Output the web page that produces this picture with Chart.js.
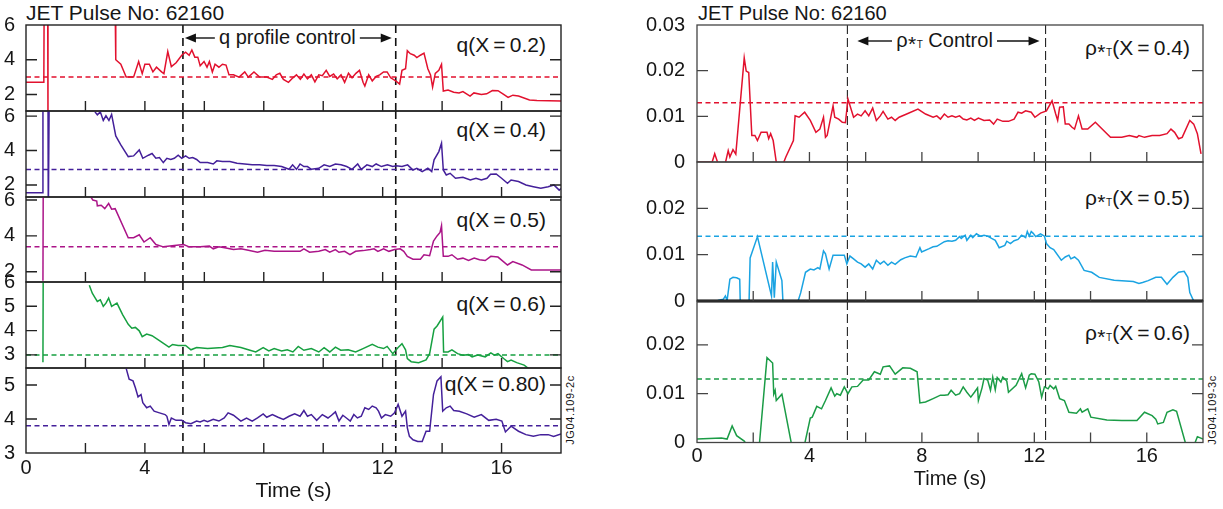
<!DOCTYPE html>
<html><head><meta charset="utf-8">
<script src="https://cdn.jsdelivr.net/npm/chart.js@4.4.1/dist/chart.umd.min.js"></script>
<style>
html,body{margin:0;padding:0;background:#fff;}
#wrap{position:relative;width:1223px;height:509px;overflow:hidden;font-family:"Liberation Sans",Arial,sans-serif;color:#161616;}
#wrap canvas{position:absolute;}
.lbl{position:absolute;font-size:20px;line-height:22px;white-space:nowrap;transform:translateY(-50%);}
.big{font-size:21px;}
.ctr{position:absolute;font-size:20px;line-height:22px;white-space:nowrap;transform:translate(-50%,-50%);}
.lbl sub,.ctr sub{font-size:10px;vertical-align:-1px;line-height:0;}
.star{position:relative;top:4px;font-size:21px;line-height:0;margin:0 0.5px;}
.jg{position:absolute;font-size:11px;letter-spacing:0.6px;white-space:nowrap;transform:translate(-50%,-50%) rotate(-90deg);}
</style></head><body><div id="wrap"></div>
<script>
// ---------------- DATA ----------------
const timeLabelsLeft = [0, 4, 12, 16];
const timeLabelsRight = [0, 4, 8, 12, 16];
const timeMarks = [0, 2, 4, 6, 8, 10, 12, 14, 16, 18];
const qControl = [5.28, 12.44];
const rhoControl = [5.35, 12.4];

const q02 = [[0,2.7],[0.6,2.7],[0.61,7],[0.73,7],[0.74,0],[1.5,null],[3.0,7],[3.02,4.0],[3.19,3.74],[3.37,3.0],[3.62,3.0],[3.79,3.9],[3.91,3.2],[4.0,3.74],[4.15,3.74],[4.27,3.3],[4.39,3.57],[4.56,3.3],[4.64,3.2],[4.77,4.47],[4.89,3.6],[5.05,3.83],[5.24,4.26],[5.37,4.43],[5.49,4.26],[5.58,4.56],[5.68,4.15],[5.78,4.15],[5.86,3.65],[5.99,3.9],[6.09,3.57],[6.17,3.9],[6.27,3.3],[6.36,3.74],[6.49,3.57],[6.61,3.74],[6.73,3.69],[6.83,3.13],[6.98,3.13],[7.17,3.0],[7.36,3.3],[7.48,3.0],[7.67,3.3],[7.86,3.0],[8.1,3.0],[8.29,2.87],[8.42,3.13],[8.54,3.22],[8.66,2.87],[8.83,2.7],[8.98,2.96],[9.1,3.13],[9.23,2.87],[9.35,3.18],[9.47,2.9],[9.6,3.13],[9.72,2.73],[9.85,3.13],[9.97,3.08],[10.1,3.39],[10.22,3.04],[10.35,3.18],[10.47,2.9],[10.6,3.13],[10.72,2.7],[10.85,3.22],[10.97,2.96],[11.1,3.22],[11.22,3.39],[11.34,2.7],[11.4,2.49],[11.53,3.13],[11.65,2.78],[11.78,3.04],[11.9,3.13],[12.03,3.3],[12.15,3.3],[12.27,2.96],[12.44,2.78],[12.57,2.6],[12.65,3.39],[12.77,3.48],[12.83,4.52],[12.93,4.35],[13.06,4.26],[13.15,4.12],[13.27,4.26],[13.39,4.38],[13.52,3.48],[13.61,3.13],[13.68,2.43],[13.77,3.22],[13.89,3.39],[13.98,3.74],[14.04,2.2],[14.2,2.26],[14.39,2.13],[14.57,2.09],[14.7,2.17],[14.94,1.91],[15.07,2.09],[15.32,2.0],[15.5,2.04],[15.69,2.23],[15.88,2.22],[16.07,2.0],[16.22,1.83],[16.38,1.96],[16.57,1.91],[16.94,1.68],[17.19,1.65],[18.0,1.62]];

const q04 = [[0,1.55],[0.56,1.55],[0.57,7],[0.74,7],[0.75,0],[0.77,0],[0.78,7],[1.5,null],[2.32,6.25],[2.4,6.08],[2.5,6.25],[2.6,5.75],[2.69,6.02],[2.79,5.75],[2.88,6.1],[3.02,4.85],[3.19,4.33],[3.44,3.65],[3.62,3.69],[3.81,4.04],[3.93,3.55],[4.12,3.73],[4.24,3.83],[4.37,3.55],[4.49,3.59],[4.62,3.3],[4.74,3.55],[4.87,3.48],[4.99,3.55],[5.12,3.73],[5.24,3.55],[5.37,3.69],[5.49,3.55],[5.61,3.59],[5.74,3.48],[5.86,3.3],[6.11,3.3],[6.3,3.22],[6.42,3.4],[6.61,3.36],[6.86,3.36],[7.1,3.26],[7.36,3.22],[7.61,3.17],[7.86,3.17],[8.1,3.13],[8.35,3.13],[8.6,3.07],[8.85,2.91],[8.97,3.17],[9.1,2.91],[9.22,3.22],[9.35,3.07],[9.47,3.07],[9.6,2.91],[9.85,2.97],[10.03,3.17],[10.22,3.07],[10.41,3.22],[10.6,3.17],[10.79,3.07],[10.97,2.91],[11.16,3.22],[11.28,2.91],[11.47,3.17],[11.65,3.07],[11.78,3.22],[11.96,3.07],[12.16,3.17],[12.34,3.07],[12.46,3.11],[12.65,3.07],[12.84,3.17],[13.02,2.87],[13.15,2.97],[13.33,2.78],[13.52,2.97],[13.65,2.78],[13.73,3.46],[13.89,3.94],[13.98,4.43],[14.04,2.87],[14.14,2.58],[14.27,2.68],[14.45,2.39],[14.7,2.45],[14.95,2.29],[15.14,2.39],[15.32,2.29],[15.51,2.39],[15.63,2.62],[15.82,2.64],[16.0,2.39],[16.2,2.1],[16.32,2.29],[16.57,2.2],[16.82,2.0],[17.07,1.9],[17.32,1.81],[17.57,1.9],[17.76,2.0],[17.94,1.7],[18,1.79]];

const q05 = [[0.57,1.5],[0.58,7],[1.5,null],[2.13,6.3],[2.25,6.0],[2.38,5.94],[2.4,5.68],[2.53,5.71],[2.65,5.52],[2.78,5.81],[2.88,5.49],[3.0,5.52],[3.44,3.9],[3.62,3.9],[3.81,4.06],[3.97,3.66],[4.18,3.9],[4.37,3.52],[4.62,3.39],[4.99,3.47],[5.3,3.52],[5.49,3.39],[5.86,3.39],[6.17,3.43],[6.3,3.28],[6.49,3.39],[6.73,3.33],[6.98,3.24],[7.23,3.28],[7.48,3.2],[7.79,3.09],[8.04,3.2],[8.35,3.14],[8.73,3.14],[9.22,3.14],[9.35,3.28],[9.54,3.09],[9.85,3.14],[10.07,3.24],[10.22,3.09],[10.41,3.24],[10.53,3.09],[10.72,3.14],[10.9,2.95],[11.09,3.14],[11.34,3.18],[11.59,3.24],[11.71,3.28],[11.84,3.14],[12.03,3.28],[12.21,3.14],[12.4,3.24],[12.59,3.28],[12.71,3.14],[12.83,2.86],[13.02,2.7],[13.27,2.7],[13.39,2.95],[13.58,2.9],[13.71,3.71],[13.83,4.0],[13.93,4.19],[13.98,4.57],[14.04,2.86],[14.2,2.86],[14.33,2.95],[14.52,2.7],[14.7,2.76],[14.89,2.63],[15.08,2.76],[15.26,2.67],[15.45,2.63],[15.64,2.86],[15.88,2.82],[16.2,2.38],[16.38,2.57],[16.69,2.38],[17.0,2.1],[17.5,2.1],[18,2.1]];

const q06 = [[0.57,2.7],[0.58,7],[1.5,null],[2.13,5.87],[2.23,5.54],[2.32,5.36],[2.4,5.2],[2.5,5.27],[2.6,5.0],[2.69,5.13],[2.78,5.34],[2.88,5.0],[3.06,5.13],[3.25,4.66],[3.44,4.26],[3.56,4.1],[3.68,4.13],[3.81,3.99],[3.91,3.75],[4.06,3.86],[4.24,3.79],[4.49,3.59],[4.81,3.32],[4.93,3.43],[5.12,3.39],[5.37,3.39],[5.55,3.21],[5.74,3.3],[6.11,3.26],[6.61,3.3],[6.86,3.39],[7.23,3.3],[7.48,3.21],[7.73,3.12],[7.98,3.3],[8.17,3.16],[8.35,3.26],[8.6,3.16],[8.79,3.21],[8.98,3.12],[9.16,3.35],[9.35,3.19],[9.6,3.26],[9.85,3.12],[10.03,3.3],[10.22,3.12],[10.41,3.32],[10.59,3.19],[10.84,3.21],[11.09,3.12],[11.34,3.26],[11.65,3.43],[11.84,3.32],[12.03,3.26],[12.15,3.35],[12.34,3.05],[12.52,3.3],[12.65,3.46],[12.77,3.21],[12.83,2.85],[12.96,2.72],[13.21,2.68],[13.46,2.79],[13.58,3.05],[13.73,4.06],[13.83,4.19],[14.02,4.56],[14.05,3.12],[14.2,3.12],[14.33,3.21],[14.52,3.05],[14.7,2.99],[14.89,3.01],[15.01,2.92],[15.2,2.99],[15.45,2.92],[15.64,3.08],[15.76,2.99],[15.88,3.05],[16.07,2.85],[16.2,2.72],[16.32,2.79],[16.51,2.68],[16.76,2.58],[16.9,2.45]];

const q08 = [[3.37,5.49],[3.47,5.17],[3.6,5.12],[3.68,4.92],[3.77,4.65],[3.87,4.72],[3.93,4.48],[4.06,4.33],[4.18,4.38],[4.31,4.23],[4.49,4.18],[4.68,4.13],[4.74,4.08],[4.81,3.84],[4.89,4.03],[5.05,3.96],[5.24,3.96],[5.37,3.89],[5.55,3.86],[5.74,3.94],[5.86,3.91],[5.99,3.96],[6.11,3.92],[6.3,3.99],[6.49,3.94],[6.67,4.03],[6.8,4.18],[6.98,4.11],[7.23,3.94],[7.42,4.03],[7.61,3.94],[7.79,4.03],[7.98,4.15],[8.1,4.05],[8.29,4.13],[8.48,4.05],[8.66,3.99],[8.85,4.08],[9.04,4.15],[9.22,4.08],[9.35,4.25],[9.47,4.08],[9.6,4.13],[9.78,3.96],[9.97,4.13],[10.16,4.03],[10.28,4.11],[10.41,4.21],[10.53,3.94],[10.66,4.11],[10.78,4.03],[10.91,3.94],[11.03,4.13],[11.15,4.03],[11.28,4.08],[11.4,4.33],[11.53,4.28],[11.65,4.38],[11.78,4.33],[11.86,4.23],[11.96,4.03],[12.09,4.13],[12.27,4.08],[12.4,4.18],[12.52,4.43],[12.65,4.08],[12.77,4.23],[12.83,3.74],[12.9,3.49],[13.02,3.39],[13.18,3.34],[13.33,3.34],[13.46,3.64],[13.58,3.64],[13.71,4.72],[13.83,5.12],[13.96,5.24],[14.02,4.23],[14.14,4.33],[14.27,4.38],[14.39,4.25],[14.58,4.23],[14.83,4.15],[15.08,4.05],[15.32,4.13],[15.57,3.96],[15.82,3.99],[16.01,3.94],[16.13,3.62],[16.32,3.79],[16.57,3.64],[16.82,3.54],[17.07,3.49],[17.32,3.54],[17.57,3.54],[17.75,3.49],[18,3.56]];

const rho04 = [[0,0],[0.54,0],[0.63,0.0018],[0.74,-0.0002],[1.01,-0.0002],[1.11,0.0025],[1.17,0.0011],[1.28,0.0027],[1.38,0.0017],[1.68,0.0228],[1.75,0.0199],[1.84,0.0196],[1.95,0.0058],[2.06,0.0058],[2.15,0.0047],[2.28,0.0065],[2.49,0.0065],[2.55,0.0051],[2.62,0.0062],[2.71,0.0047],[2.82,0],[2.89,-0.0011],[3.02,-0.0011],[3.16,0.0011],[3.43,0.0047],[3.49,0.0101],[3.63,0.0098],[3.83,0.0109],[4.03,0.0091],[4.23,0.0065],[4.37,0.0072],[4.5,0.0098],[4.57,0.0054],[4.63,0.0058],[4.84,0.0123],[4.9,0.0098],[5.04,0.0094],[5.17,0.0087],[5.28,0.0086],[5.37,0.0138],[5.57,0.0098],[5.71,0.0105],[5.84,0.0101],[5.98,0.0112],[6.11,0.0101],[6.25,0.0118],[6.38,0.0091],[6.52,0.0101],[6.62,0.0111],[6.79,0.0094],[6.92,0.0098],[7.05,0.0091],[7.19,0.0098],[7.46,0.0105],[7.86,0.0116],[8.13,0.0105],[8.4,0.0098],[8.53,0.0101],[8.66,0.0094],[8.8,0.0105],[8.93,0.0098],[9.07,0.0101],[9.2,0.0098],[9.34,0.0101],[9.47,0.0094],[9.6,0.0092],[9.74,0.0096],[9.87,0.0091],[10.01,0.0096],[10.21,0.0091],[10.41,0.0092],[10.55,0.0083],[10.68,0.0094],[10.88,0.0089],[11.08,0.0089],[11.28,0.0094],[11.42,0.0109],[11.55,0.0107],[11.69,0.0112],[11.89,0.0109],[12.02,0.0098],[12.22,0.0107],[12.43,0.0112],[12.63,0.0134],[12.76,0.0105],[12.83,0.0091],[12.9,0.012],[13.03,0.0121],[13.1,0.0083],[13.23,0.0083],[13.34,0.0076],[13.43,0.0072],[13.57,0.0101],[13.7,0.0072],[13.9,0.0072],[14.17,0.0087],[14.71,0.0054],[15.11,0.0054],[15.38,0.0058],[15.65,0.0054],[15.72,0.0058],[15.92,0.0054],[16.19,0.0058],[16.46,0.0058],[16.72,0.0062],[16.86,0.0072],[16.99,0.0065],[17.13,0.0051],[17.26,0.0054],[17.53,0.0091],[17.67,0.0083],[17.8,0.0062],[17.93,0.0018]];

const rho05 = [[0,0],[0.74,0.0001],[0.94,0.0004],[1.01,0.0011],[1.07,0.0001],[1.17,0.0047],[1.28,0.0051],[1.41,0.005],[1.52,0.0047],[1.54,-0.0007],[1.85,-0.0007],[1.89,0.0093],[2.15,0.0139],[2.65,0.0011],[2.69,0.0084],[2.75,0.0007],[2.82,0.0084],[3.02,0.0044],[3.06,-0.0004],[3.56,-0.0007],[3.69,0.0018],[3.86,0.0062],[4.03,0.0069],[4.16,0.0067],[4.3,0.0072],[4.37,0.0069],[4.5,0.0108],[4.57,0.0102],[4.7,0.0069],[4.84,0.0099],[5.04,0.0099],[5.24,0.0099],[5.33,0.008],[5.44,0.0097],[5.57,0.0091],[5.71,0.0084],[5.84,0.008],[5.98,0.0073],[6.11,0.008],[6.25,0.0069],[6.38,0.0088],[6.52,0.008],[6.65,0.0086],[6.79,0.0077],[6.92,0.0084],[7.05,0.0079],[7.25,0.0089],[7.39,0.0093],[7.59,0.0097],[7.79,0.0095],[7.93,0.0115],[7.99,0.0106],[8.26,0.0113],[8.4,0.0117],[8.53,0.0118],[8.8,0.0128],[8.93,0.013],[9.07,0.0129],[9.2,0.0131],[9.34,0.0139],[9.4,0.0135],[9.54,0.0142],[9.6,0.0131],[9.74,0.0142],[9.81,0.0137],[9.94,0.0145],[10.08,0.014],[10.21,0.0142],[10.34,0.014],[10.48,0.0135],[10.61,0.0131],[10.75,0.0115],[10.95,0.012],[11.02,0.0129],[11.15,0.0124],[11.28,0.013],[11.42,0.0133],[11.55,0.0142],[11.69,0.0137],[11.75,0.015],[11.82,0.014],[11.89,0.015],[11.96,0.0146],[12.05,0.0139],[12.22,0.0145],[12.36,0.014],[12.43,0.0124],[12.56,0.0115],[12.69,0.0111],[12.96,0.0088],[13.1,0.0095],[13.23,0.0099],[13.3,0.0091],[13.43,0.0095],[13.57,0.0088],[13.77,0.0066],[14.04,0.0062],[14.31,0.0051],[14.84,0.0045],[15.52,0.0042],[15.72,0.0038],[15.85,0.004],[16.05,0.0044],[16.32,0.0051],[16.52,0.0051],[16.72,0.0036],[16.93,0.0051],[17.13,0.0062],[17.33,0.0064],[17.46,0.0051],[17.53,0.0018],[17.67,0]];

const rho06 = [[0,0.0007],[0.87,0.0009],[1.07,0.0007],[1.25,0.0034],[1.41,0.0014],[1.68,0.0003],[1.75,-0.0003],[2.22,-0.0003],[2.49,0.0174],[2.69,0.0163],[2.73,0.0099],[2.78,0.0107],[2.82,0.0086],[3.02,0.0099],[3.36,-0.0003],[3.83,-0.0003],[4.03,0.005],[4.1,0.0052],[4.26,0.0074],[4.43,0.0069],[4.57,0.0086],[4.77,0.0112],[4.9,0.0095],[4.97,0.01],[5.1,0.0097],[5.24,0.0114],[5.37,0.01],[5.51,0.0114],[5.71,0.0115],[5.91,0.0128],[6.11,0.0128],[6.31,0.0145],[6.52,0.014],[6.62,0.0155],[6.85,0.0157],[7.05,0.014],[7.32,0.0153],[7.59,0.0152],[7.83,0.0145],[7.93,0.0081],[8.13,0.0083],[8.4,0.009],[8.66,0.0097],[8.8,0.0097],[8.93,0.0098],[9.04,0.0107],[9.2,0.0097],[9.34,0.01],[9.47,0.0114],[9.6,0.0103],[9.74,0.0093],[9.87,0.0103],[9.98,0.0112],[10.01,0.0086],[10.14,0.0112],[10.21,0.0131],[10.34,0.0128],[10.44,0.0107],[10.52,0.0134],[10.61,0.0108],[10.68,0.0133],[10.81,0.0124],[10.88,0.0134],[11.02,0.0126],[11.08,0.0103],[11.35,0.0117],[11.55,0.0141],[11.69,0.0112],[11.82,0.0138],[11.89,0.0141],[12.02,0.014],[12.16,0.0124],[12.26,0.0093],[12.36,0.0114],[12.49,0.011],[12.56,0.0117],[12.69,0.011],[12.76,0.0115],[12.9,0.009],[13.07,0.0086],[13.23,0.0062],[13.5,0.006],[13.64,0.0069],[13.7,0.0062],[13.9,0.0069],[14.01,0.0052],[14.58,0.0046],[15.11,0.0045],[15.65,0.0045],[15.92,0.0062],[16.19,0.0055],[16.32,0.0048],[16.39,0.0038],[16.59,0.0041],[16.72,0.0062],[16.93,0.0067],[17.06,0.0064],[17.37,0],[17.46,-0.0003],[17.7,-0.0003],[17.8,0.0012],[18,0.0007]];

const qTargets = [3.0, 2.9, 3.4, 3.0, 3.8];
const rhoTargets = [0.013, 0.014, 0.013];
const qLabels = ['q(X\u2009=\u20090.2)', 'q(X\u2009=\u20090.4)', 'q(X\u2009=\u20090.5)', 'q(X\u2009=\u20090.6)', 'q(X\u2009=\u20090.80)'];
const rhoLabels = ['0.4', '0.5', '0.6'];
const qYTicks = [[2, 4, 6], [2, 4, 6], [2, 4, 6], [3, 4, 5, 6], [3, 4, 5]];
const rhoYTicks = [[0, 0.01, 0.02, 0.03], [0, 0.01, 0.02], [0, 0.01, 0.02]];
const qRanges = [[1.05, 6.0], [1.3, 6.3], [1.43, 6.17], [2.46, 6.0], [3.0, 5.5]];
const rhoRanges = [[0, 0.03], [0, 0.03], [0, 0.029]];

// ---------------- STYLE / LAYOUT ----------------
const RED = '#e2112e', INDIGO = '#44209a', MAGENTA = '#ab1488', GREEN = '#16a040', CYAN = '#1aa3e2';
const qSeries = [q02, q04, q05, q06, q08];
const qColors = [RED, INDIGO, MAGENTA, GREEN, INDIGO];
const rhoSeries = [rho04, rho05, rho06];
const rhoColors = [RED, CYAN, '#1b9c46'];
const FONT = '"Liberation Sans", Arial, Helvetica, sans-serif';
const wrap = document.getElementById('wrap');

function addDiv(cls, html, style) {
  const d = document.createElement('div');
  d.className = cls; d.innerHTML = html;
  Object.assign(d.style, style);
  wrap.appendChild(d);
  return d;
}

function drawArrow(ctx, from, tip, y) {
  const dir = Math.sign(tip - from);
  ctx.beginPath(); ctx.moveTo(from, y); ctx.lineTo(tip - dir * 8, y); ctx.stroke();
  ctx.beginPath(); ctx.moveTo(tip, y); ctx.lineTo(tip - dir * 11, y - 4.5); ctx.lineTo(tip - dir * 11, y + 4.5); ctx.closePath(); ctx.fill();
}

function decoPlugin(cfg) {
  return {
    id: 'deco',
    beforeDatasetsDraw(chart) {
      const { ctx, chartArea: a, scales: { x } } = chart;
      ctx.save();
      ctx.strokeStyle = cfg.ctrlColor; ctx.lineWidth = cfg.ctrlWidth; ctx.setLineDash(cfg.ctrlDash);
      cfg.ctrl.forEach(t => {
        const px = x.getPixelForValue(t);
        ctx.beginPath(); ctx.moveTo(px, a.top); ctx.lineTo(px, a.bottom); ctx.stroke();
      });
      ctx.restore();
    },
    afterDatasetsDraw(chart) {
      const { ctx, chartArea: a, scales: { x, y } } = chart;
      ctx.save();
      ctx.strokeStyle = cfg.frameColor; ctx.lineWidth = cfg.frameWidth;
      ctx.strokeRect(a.left, a.top, a.right - a.left, a.bottom - a.top);
      if (cfg.boldBottom) {
        ctx.strokeStyle = '#000'; ctx.lineWidth = 3;
        ctx.beginPath(); ctx.moveTo(a.left, a.bottom); ctx.lineTo(a.right, a.bottom); ctx.stroke();
      }
      ctx.strokeStyle = cfg.tickColor; ctx.lineWidth = cfg.tickWidth;
      ctx.beginPath();
      timeMarks.forEach(t => {
        if (t <= x.min || t >= x.max) return;
        const px = x.getPixelForValue(t);
        ctx.moveTo(px, a.bottom); ctx.lineTo(px, a.bottom - 10);
      });
      cfg.yMarks.forEach(v => {
        if (v <= y.min || v >= y.max) return;
        const py = y.getPixelForValue(v);
        ctx.moveTo(a.left, py); ctx.lineTo(a.left + 11, py);
        ctx.moveTo(a.right, py); ctx.lineTo(a.right - 11, py);
      });
      ctx.stroke();
      if (cfg.arrow) {
        const el = document.getElementById(cfg.arrow.id);
        const x0 = x.getPixelForValue(cfg.ctrl[0]), x1 = x.getPixelForValue(cfg.ctrl[1]);
        const mid = (x0 + x1) / 2 + cfg.arrow.shift;
        el.style.left = (cfg.canvasLeft + mid) + 'px';
        const w = el.offsetWidth;
        const yy = cfg.arrow.y - cfg.canvasTop;
        ctx.strokeStyle = '#111'; ctx.fillStyle = '#111'; ctx.lineWidth = 1.4;
        drawArrow(ctx, mid - w / 2 - 4, x0 + cfg.arrow.gaps[0], yy);
        drawArrow(ctx, mid + w / 2 + 4, x1 - cfg.arrow.gaps[1], yy);
      }
      ctx.restore();
    }
  };
}

function makeSubplot(o) {
  const padT = 14, padB = 14;
  const axisW = o.plotL - o.x0;
  const plotH = o.plotB - o.plotT;
  const axisH = o.bottom ? o.bottom.axisH : 0;
  const cTop = o.plotT - padT;
  const layoutBottom = o.bottom ? 2 : padB;
  const cH = Math.ceil(padT + plotH + axisH + layoutBottom);
  const cW = (o.plotR - o.x0) + 4;
  const cv = document.createElement('canvas');
  cv.width = cW; cv.height = cH;
  cv.style.left = o.x0 + 'px'; cv.style.top = cTop + 'px';
  wrap.appendChild(cv);
  const tickFont = { family: FONT, size: o.fontSize, lineHeight: 1 };
  const xScale = { type: 'linear', min: 0, max: 18, display: !!o.bottom, grid: { display: false }, border: { display: false } };
  if (o.bottom) {
    Object.assign(xScale, {
      afterBuildTicks: s => { s.ticks = o.bottom.ticks.map(v => ({ value: v })); },
      afterFit: s => { s.height = axisH; },
      ticks: { padding: o.bottom.labelPad, font: tickFont, color: '#161616', autoSkip: false, maxRotation: 0 },
      title: { display: true, text: 'Time (s)', font: { family: FONT, size: o.bottom.titleSize, lineHeight: 1 }, padding: 0, color: '#161616' }
    });
  }
  new Chart(cv, {
    type: 'line',
    data: {
      datasets: [
        { data: o.series.map(p => ({ x: p[0], y: p[1] })), borderColor: o.color, borderWidth: 1.5, pointRadius: 0, tension: 0, spanGaps: false },
        { data: [{ x: 0, y: o.target }, { x: 18, y: o.target }], borderColor: o.color, borderWidth: 1.5, borderDash: [5, 3.5], pointRadius: 0 }
      ]
    },
    options: {
      responsive: false, animation: false, devicePixelRatio: 1,
      layout: { padding: { top: padT, bottom: layoutBottom, left: 0, right: 4 } },
      plugins: { legend: { display: false }, tooltip: { enabled: false } },
      scales: {
        x: xScale,
        y: {
          min: o.range[0], max: o.range[1],
          grid: { display: false }, border: { display: false },
          afterFit: s => { s.width = axisW; },
          afterBuildTicks: s => { s.ticks = o.yTicks.map(v => ({ value: v })); },
          ticks: { padding: o.yPad, font: tickFont, color: '#161616', autoSkip: false, callback: o.yFmt }
        }
      }
    },
    plugins: [decoPlugin({
      ctrl: o.ctrl, ctrlColor: o.ctrlColor, ctrlWidth: o.ctrlWidth, ctrlDash: o.ctrlDash,
      frameColor: o.frameColor, frameWidth: o.frameWidth, tickColor: o.frameColor, tickWidth: o.frameWidth,
      yMarks: o.yTicks, boldBottom: o.boldBottom, arrow: o.arrow, canvasLeft: o.x0, canvasTop: cTop
    })]
  });
}

// ---------- text annotations ----------
const STAR = 'ρ<span class="star">*</span><sub>T</sub>';
addDiv('lbl', 'JET Pulse No: 62160', { left: '26px', top: '13px', fontSize: '21px' });
addDiv('lbl', 'JET Pulse No: 62160', { left: '698px', top: '13px' });
addDiv('ctr', 'q profile control', { left: '289px', top: '37px' }).id = 'qctrl';
addDiv('ctr', STAR + ' Control', { left: '946px', top: '40px' }).id = 'rctrl';
const qLabelY = [45, 130, 220, 304, 384];
qLabels.forEach((t, i) => addDiv('lbl big', t, { right: (1223 - 546) + 'px', top: qLabelY[i] + 'px' }));
const rLabelY = [48, 198, 333];
rhoLabels.forEach((t, i) => addDiv('lbl big', STAR + '(X\u2009=\u2009' + t + ')', { right: (1223 - 1190) + 'px', top: rLabelY[i] + 'px' }));
addDiv('jg', 'JG04.109-2c', { left: '570px', top: '410px' });
addDiv('jg', 'JG04.109-3c', { left: '1212px', top: '410px' });

// ---------- left panel ----------
const qTops = [25, 111, 197, 282, 368], qBottoms = [111, 197, 282, 368, 453];
qSeries.forEach((s, i) => makeSubplot({
  x0: 0, plotL: 26, plotR: 561, plotT: qTops[i], plotB: qBottoms[i],
  series: s, color: qColors[i], target: qTargets[i], range: qRanges[i], yTicks: qYTicks[i],
  yFmt: v => String(v), yPad: 3, fontSize: 20,
  ctrl: qControl, ctrlColor: '#111', ctrlWidth: 1.6, ctrlDash: [8, 5],
  frameColor: '#222', frameWidth: 1.4,
  bottom: i === 4 ? { ticks: timeLabelsLeft, labelPad: -3, axisH: 49, titleSize: 21 } : null,
  arrow: i === 0 ? { id: 'qctrl', y: 38, gaps: [2, 4], shift: -2 } : null
}));

// ---------- right panel ----------
const rTops = [25, 162, 301], rBottoms = [162, 301, 442];
rhoSeries.forEach((s, i) => makeSubplot({
  x0: 640, plotL: 697, plotR: 1203, plotT: rTops[i], plotB: rBottoms[i],
  series: s, color: rhoColors[i], target: rhoTargets[i], range: rhoRanges[i], yTicks: rhoYTicks[i],
  yFmt: v => (v === 0 ? '0' : v.toFixed(2)), yPad: 4, fontSize: 20,
  ctrl: rhoControl, ctrlColor: '#222', ctrlWidth: 1.1, ctrlDash: [9, 4],
  frameColor: '#444', frameWidth: 1.3, boldBottom: i === 1,
  bottom: i === 2 ? { ticks: timeLabelsRight, labelPad: -4, axisH: 46.5, titleSize: 20 } : null,
  arrow: i === 0 ? { id: 'rctrl', y: 41, gaps: [10, 6], shift: -2 } : null
}));
</script></body></html>
